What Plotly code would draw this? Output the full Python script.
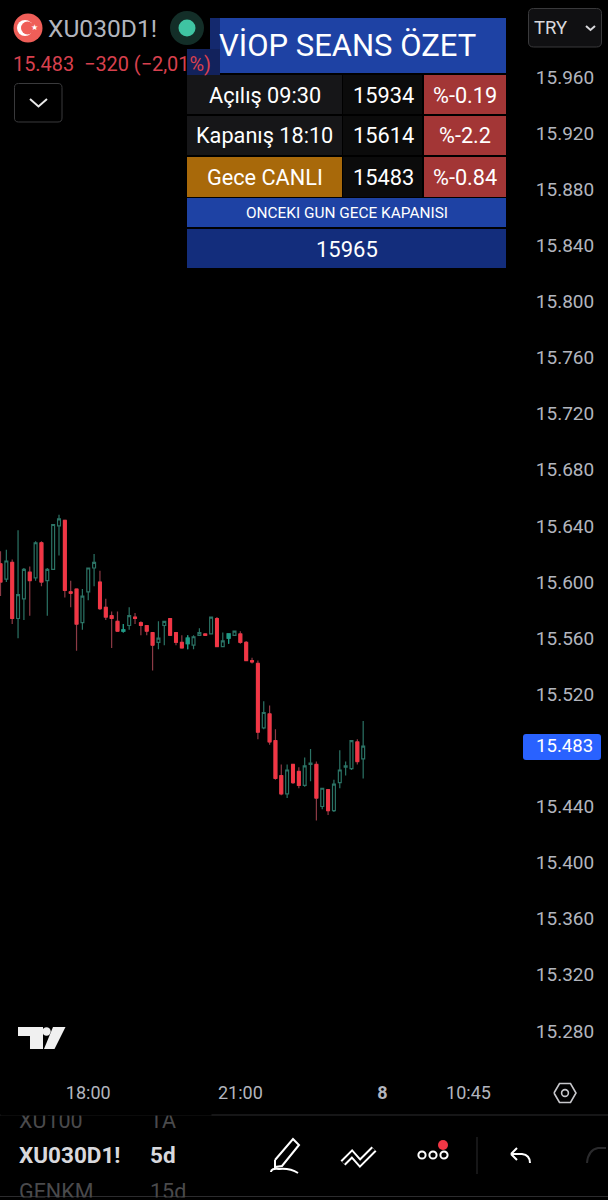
import plotly.graph_objects as go

# ---------- data ----------
opens = [15613,15602,15614,15574,15588,15607,15603,15628,15601,15609,15640,15644,15593,15595,15571,15593,15610,15600,15582,15576,15572,15565,15569,15575,15571,15569,15564,15557,15569,15574,15564,15557,15556,
         15555,15562,15563,15563,15574,15554,15560,15562,15563,15557,15544,15542,15496,15506,15487,15462,15449,15470,15465,15455,15470,15470,15440,15452,15437,15457,15468,15467,15486,15474]
closes = [15600,15615,15574,15591,15609,15601,15628,15600,15609,15641,15645,15594,15592,15570,15590,15610,15614,15581,15575,15574,15565,15566,15576,15574,15569,15565,15555,15560,15572,15562,15557,15553,15560,
         15561,15564,15562,15575,15554,15558,15563,15565,15557,15544,15543,15493,15507,15486,15460,15449,15466,15457,15455,15469,15471,15446,15453,15437,15456,15466,15469,15487,15472,15483]
highs = [15622,15623,15616,15637,15610,15611,15629,15629,15610,15641,15648,15644,15601,15595,15595,15610,15620,15608,15588,15579,15579,15570,15582,15578,15572,15569,15564,15572,15572,15574,15564,15562,15562,
         15562,15567,15563,15575,15575,15564,15563,15565,15565,15558,15546,15544,15515,15512,15495,15470,15470,15470,15468,15475,15481,15472,15453,15452,15459,15480,15472,15487,15488,15501]
lows = [15590,15600,15570,15560,15573,15576,15601,15597,15576,15609,15619,15589,15582,15551,15566,15587,15597,15580,15573,15553,15565,15564,15566,15570,15562,15562,15537,15552,15555,15562,15555,15553,15552,
         15552,15562,15562,15563,15554,15554,15556,15562,15556,15544,15542,15488,15495,15484,15459,15448,15446,15456,15453,15454,15458,15430,15438,15434,15436,15453,15462,15466,15470,15460]
filled_candles = [21, 32, 39]
price_ticks = [15280,15320,15360,15400,15440,15520,15560,15600,15640,15680,15720,15760,15800,15840,15880,15920,15960]
time_tick_pos = [15, 41, 65.3, 80]
time_tick_text = ["18:00", "21:00", "<b>8</b>", "10:45"]
last_price = "15.483"
legend_text = "15.483  −320 (−2,01%)"
table_rows = [("Açılış 09:30", "15934", "%-0.19"), ("Kapanış 18:10", "15614", "%-2.2"), ("Gece CANLI", "15483", "%-0.84")]
table_title = "VİOP SEANS ÖZET"
table_sub = "ONCEKI GUN GECE KAPANISI"
table_prev = "15965"

# ---------- layout helpers (page pixels -> paper) ----------
PW, PH = 523.0, 1074.0
def X(p): return p / PW
def Y(p): return 1 - p / PH
shapes, annos = [], []

def rect(x0, y0, x1, y1, fill):
    shapes.append(dict(type="rect", xref="paper", yref="paper", x0=X(x0), x1=X(x1), y0=Y(y1), y1=Y(y0),
                       fillcolor=fill, line=dict(width=0)))

def circle(cx, cy, r, fill=None, line=None, lw=0):
    d = dict(type="circle", xref="paper", yref="paper", x0=X(cx-r), x1=X(cx+r), y0=Y(cy+r), y1=Y(cy-r),
             fillcolor=fill or "rgba(0,0,0,0)", line=dict(width=lw, color=line or "rgba(0,0,0,0)"))
    shapes.append(d)

def path(cmds, fill=None, line=None, lw=0):
    out = []
    for c in cmds:
        if c[0] == "Z":
            out.append("Z")
        else:
            nums = c[1:]
            pts = " ".join(f"{X(nums[i]):.5f},{Y(nums[i+1]):.5f}" for i in range(0, len(nums), 2))
            out.append(c[0] + " " + pts)
    shapes.append(dict(type="path", xref="paper", yref="paper", path=" ".join(out),
                       fillcolor=fill or "rgba(0,0,0,0)", line=dict(width=lw, color=line or "rgba(0,0,0,0)")))

def poly(pts, **kw):
    cmds = [("M",) + pts[0]] + [("L",) + p for p in pts[1:]]
    path(cmds, **kw)

def rrect(x0, y0, x1, y1, r, fill=None, line=None, lw=0):
    path([("M", x0+r, y0), ("L", x1-r, y0), ("Q", x1, y0, x1, y0+r), ("L", x1, y1-r), ("Q", x1, y1, x1-r, y1),
          ("L", x0+r, y1), ("Q", x0, y1, x0, y1-r), ("L", x0, y0+r), ("Q", x0, y0, x0+r, y0), ("Z",)],
         fill=fill, line=line, lw=lw)

def text(x, y, s, size, color="#ffffff", anchor="center", family="Roboto"):
    annos.append(dict(xref="paper", yref="paper", x=X(x), y=Y(y), text=s, showarrow=False, xanchor=anchor,
                      yanchor="middle", font=dict(size=size, color=color, family=family), borderpad=0, borderwidth=0))

def cover(x0, y0, x1, y1):
    annos.append(dict(xref="paper", yref="paper", x=X(x0), y=Y(y0), text=" ", showarrow=False, xanchor="left",
                      yanchor="top", width=x1-x0, height=y1-y0, bgcolor="#000000", borderpad=0,
                      font=dict(size=6, color="#000000")))

# ---------- summary table ----------
BLUE, NAVY = "#1e42a4", "#132d7c"
rect(187, 18, 506, 73, BLUE)
rect(187, 18, 210, 49, "#000000")
rect(210, 18, 220, 49, "#14296e")
rect(187, 49, 220, 75, "#12225c")
rows_y = [(75, 114), (116, 155), (157, 197)]
for (y0, y1), row, fill1 in zip(rows_y, table_rows, ["#161618", "#161618", "#a8690a"]):
    rect(187, y0, 342, y1, fill1)
    rect(343, y0, 422, y1, "#0b0b0b")
    rect(424, y0, 506, y1, "#a33636")
    my = (y0 + y1) / 2 + 0.5
    text(264.5, my, row[0], 21.7)
    text(383, my, row[1], 21.8)
    text(465, my, row[2], 21.7)
rect(187, 198, 506, 227, BLUE)
rect(187, 229, 506, 268, NAVY)
text(347, 45, table_title, 31)
text(347, 213, table_sub, 15.4)
text(347, 249, table_prev, 22)

# ---------- legend header ----------
circle(28, 28, 14.5, fill="#ef5e58")
circle(25, 28, 8, fill="#ffffff")
circle(27.5, 28, 6.5, fill="#ef5e58")
text(34.5, 28, "★", 8)
text(47.5, 29, "XU030D1!", 24.6, "#b2b5be", "left")
text(13, 64, legend_text, 19.9, "#d8404e", "left")
rrect(14.5, 83.5, 62, 122, 4, fill="#000000", line="#3a3a3c", lw=1)
poly([(30, 99), (38.5, 106.5), (47, 99)], line="#e8e8e8", lw=2)
circle(187, 28, 17, fill="rgba(50,120,105,0.38)")
circle(187, 28, 8.5, fill="#3fc4a2")

# ---------- top-right and price label ----------
rrect(528.5, 8.5, 601.5, 47, 5, fill="#101012", line="#3a3a3c", lw=1)
text(534, 28, "TRY", 18.5, "#d8d8dc", "left")
poly([(586, 26), (590.5, 30), (595, 26)], line="#d8d8dc", lw=2)
rrect(523, 734, 601, 760, 3, fill="#2962ff")
text(564.5, 746, last_price, 18.6, "#ffffff")

# ---------- logo ----------
poly([(18, 1027), (43, 1027), (43, 1049), (30, 1049), (30, 1036), (18, 1036)], fill="#f0f0f0")
circle(46.5, 1031.5, 4.2, fill="#f0f0f0")
poly([(53, 1027), (65.5, 1027), (54.5, 1049), (44, 1049)], fill="#f0f0f0")

# ---------- bottom toolbar ----------
rect(0, 1114.5, 608, 1115.5, "#2c2c2e")
rect(0, 1196, 608, 1197, "#2c2c2e")
text(19, 1120, "XU100", 21.5, "#4a4a4c", "left")
text(150, 1120, "TA", 21.5, "#4a4a4c", "left")
text(19, 1155, "<b>XU030D1!</b>", 22.5, "#d8d8dc", "left")
text(150, 1155, "<b>5d</b>", 22.5, "#d8d8dc", "left")
text(19, 1191, "GENKM", 21.5, "#4a4a4c", "left")
text(150, 1191, "15d", 21.5, "#4a4a4c", "left")
cover(0, 1107, 210, 1114)
cover(0, 1197, 210, 1200)
# pencil
poly([(275, 1160), (293, 1139), (299, 1145), (282, 1166), (275, 1167), (275, 1160)], line="#ffffff", lw=2)
path([("M", 271, 1172), ("Q", 271, 1168, 279, 1169), ("Q", 290, 1168, 298, 1173)], line="#ffffff", lw=2)
# drawing tools
poly([(343, 1163), (352, 1154), (360, 1163), (374, 1149)], line="#ffffff", lw=7)
poly([(343, 1163), (352, 1154), (360, 1163), (374, 1149)], line="#000000", lw=3)
# dots
for cx in (422, 433, 444):
    circle(cx, 1155, 3.6, line="#ffffff", lw=2)
circle(443, 1145, 5, fill="#f23645")
rect(476.5, 1137, 477.5, 1174, "#2c2c2e")
# undo/redo
path([("M", 511, 1154), ("L", 517, 1148), ("M", 511, 1154), ("L", 517, 1160),
      ("M", 511, 1154), ("L", 522, 1154), ("Q", 530, 1155, 530, 1163)], line="#ffffff", lw=2)
path([("M", 606, 1148), ("L", 598, 1148), ("Q", 588, 1150, 587, 1163)], line="#2a2a2c", lw=2)
# settings hexagon
poly([(554, 1093), (559.5, 1083.5), (570.5, 1083.5), (576, 1093), (570.5, 1102.5), (559.5, 1102.5), (554, 1093)],
     line="#c8c8cc", lw=1.6)
circle(565, 1093, 3.4, line="#c8c8cc", lw=1.6)

# ---------- candles ----------
idx = list(range(len(opens)))
dec = [i for i in idx if closes[i] < opens[i]]
fig = go.Figure()
fig.add_trace(go.Candlestick(
    x=idx, open=opens, high=highs, low=lows, close=closes, whiskerwidth=0,
    increasing=dict(line=dict(color="#2b7365", width=1.2), fillcolor="#000000"),
    decreasing=dict(line=dict(color="#8c3a45", width=1.2), fillcolor="#f23645"),
    hoverinfo="skip", showlegend=False))
fig.add_trace(go.Candlestick(
    x=dec, open=[opens[i] for i in dec], close=[closes[i] for i in dec],
    high=[opens[i] for i in dec], low=[closes[i] for i in dec], whiskerwidth=0,
    increasing=dict(line=dict(color="#f23645", width=1), fillcolor="#f23645"),
    decreasing=dict(line=dict(color="#f23645", width=1), fillcolor="#f23645"),
    hoverinfo="skip", showlegend=False))
fig.add_trace(go.Candlestick(
    x=filled_candles, open=[opens[i] for i in filled_candles], close=[closes[i] for i in filled_candles],
    high=[highs[i] for i in filled_candles], low=[lows[i] for i in filled_candles], whiskerwidth=0,
    increasing=dict(line=dict(color="#1f9c88", width=1.2), fillcolor="#1f9c88"),
    decreasing=dict(line=dict(color="#1f9c88", width=1.2), fillcolor="#1f9c88"),
    hoverinfo="skip", showlegend=False))

fig.update_layout(
    width=608, height=1200, paper_bgcolor="#000000", plot_bgcolor="#000000",
    margin=dict(l=0, r=85, t=0, b=126, pad=0, autoexpand=False), showlegend=False,
    shapes=shapes, annotations=annos, font=dict(family="Roboto"),
    xaxis=dict(range=[-0.085, 89.32], rangeslider=dict(visible=False), showgrid=False, zeroline=False,
               tickmode="array", tickvals=time_tick_pos, ticktext=time_tick_text, ticks="outside", ticklen=2,
               tickcolor="#000000", tickfont=dict(size=18, color="#b2b5be", family="Roboto"), showline=False),
    yaxis=dict(range=[15249.3, 16014.9], side="right", showgrid=False, zeroline=False, showline=False,
               tickmode="array", tickvals=price_ticks, ticktext=[f"{v/1000:.3f}" for v in price_ticks],
               ticks="outside", ticklen=8, tickcolor="#000000",
               tickfont=dict(size=19, color="#b2b5be", family="Roboto")),
)
fig.write_html("out.html", config=dict(displayModeBar=False),
               post_script="document.body.style.margin='0';document.body.style.overflow='hidden';document.body.style.background='#000';")
